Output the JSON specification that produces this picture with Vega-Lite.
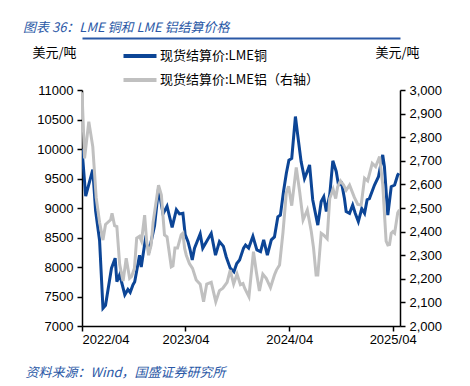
{
  "$schema": "https://vega.github.io/schema/vega-lite/v6.json",
  "width": 318,
  "height": 236,
  "autosize": {"type": "none"},
  "padding": {"left": 82, "top": 90, "right": 70, "bottom": 60},
  "background": "white",
  "title": {
    "text": "图表 36：LME 铜和 LME 铝结算价格",
    "anchor": "start",
    "frame": "group",
    "dx": -59,
    "offset": 3,
    "font": "Noto Sans CJK SC",
    "fontSize": 13,
    "fontStyle": "italic",
    "fontWeight": "normal",
    "color": "#2a58a6"
  },
  "config": {
    "view": {"stroke": null},
    "axis": {
      "labelFont": "Liberation Sans",
      "labelFontSize": 13,
      "labelColor": "#000000",
      "domainColor": "#000000",
      "domainWidth": 1.5,
      "tickColor": "#000000",
      "tickWidth": 1.5,
      "tickSize": 5,
      "grid": false,
      "titleFont": "Noto Sans CJK SC",
      "titleFontSize": 13,
      "titleFontWeight": "normal",
      "titleColor": "#000000"
    }
  },
  "datasets": {
    "cu": [
      {"date": "2022-04-01", "price": 10000},
      {"date": "2022-04-14", "price": 9200},
      {"date": "2022-05-09", "price": 9650},
      {"date": "2022-05-19", "price": 8950},
      {"date": "2022-06-02", "price": 8450},
      {"date": "2022-06-14", "price": 7300},
      {"date": "2022-06-23", "price": 7350},
      {"date": "2022-07-14", "price": 7980},
      {"date": "2022-07-27", "price": 8150},
      {"date": "2022-08-02", "price": 7750},
      {"date": "2022-08-12", "price": 7870},
      {"date": "2022-08-30", "price": 7530},
      {"date": "2022-09-10", "price": 7620},
      {"date": "2022-09-18", "price": 7570},
      {"date": "2022-09-28", "price": 7700},
      {"date": "2022-10-04", "price": 7750},
      {"date": "2022-10-21", "price": 8200},
      {"date": "2022-10-27", "price": 8000},
      {"date": "2022-11-10", "price": 8450},
      {"date": "2022-11-19", "price": 8340},
      {"date": "2022-11-25", "price": 8300},
      {"date": "2022-12-13", "price": 8700},
      {"date": "2022-12-27", "price": 9330},
      {"date": "2023-01-12", "price": 8900},
      {"date": "2023-01-26", "price": 9030},
      {"date": "2023-02-13", "price": 8670},
      {"date": "2023-02-28", "price": 8970},
      {"date": "2023-03-11", "price": 8900},
      {"date": "2023-03-23", "price": 8910},
      {"date": "2023-03-31", "price": 8550},
      {"date": "2023-04-10", "price": 8430},
      {"date": "2023-04-17", "price": 8300},
      {"date": "2023-04-25", "price": 8120},
      {"date": "2023-05-03", "price": 8320},
      {"date": "2023-05-23", "price": 8560},
      {"date": "2023-06-01", "price": 8320},
      {"date": "2023-06-13", "price": 8420},
      {"date": "2023-07-01", "price": 8570},
      {"date": "2023-07-16", "price": 8200},
      {"date": "2023-07-30", "price": 8430},
      {"date": "2023-08-13", "price": 8350},
      {"date": "2023-08-23", "price": 8170},
      {"date": "2023-09-06", "price": 7980},
      {"date": "2023-09-19", "price": 7920},
      {"date": "2023-09-29", "price": 8060},
      {"date": "2023-10-09", "price": 8120},
      {"date": "2023-10-23", "price": 8320},
      {"date": "2023-10-30", "price": 8370},
      {"date": "2023-11-10", "price": 8320},
      {"date": "2023-11-25", "price": 8520},
      {"date": "2023-12-09", "price": 8290},
      {"date": "2023-12-22", "price": 8260},
      {"date": "2024-01-02", "price": 8460},
      {"date": "2024-01-15", "price": 8200},
      {"date": "2024-01-29", "price": 8460},
      {"date": "2024-02-09", "price": 8510},
      {"date": "2024-02-21", "price": 8850},
      {"date": "2024-03-01", "price": 8880},
      {"date": "2024-03-12", "price": 9280},
      {"date": "2024-03-22", "price": 9590},
      {"date": "2024-03-31", "price": 9810},
      {"date": "2024-04-10", "price": 9840},
      {"date": "2024-04-23", "price": 10550},
      {"date": "2024-05-01", "price": 10240},
      {"date": "2024-05-13", "price": 9790},
      {"date": "2024-05-25", "price": 9500},
      {"date": "2024-06-04", "price": 9620},
      {"date": "2024-06-12", "price": 9730},
      {"date": "2024-06-23", "price": 9140},
      {"date": "2024-07-11", "price": 8710},
      {"date": "2024-07-23", "price": 9110},
      {"date": "2024-08-01", "price": 9190},
      {"date": "2024-08-10", "price": 8940},
      {"date": "2024-08-22", "price": 9220},
      {"date": "2024-09-02", "price": 9800},
      {"date": "2024-09-14", "price": 9620},
      {"date": "2024-09-22", "price": 9390},
      {"date": "2024-10-03", "price": 9420},
      {"date": "2024-10-13", "price": 9160},
      {"date": "2024-10-19", "price": 8940},
      {"date": "2024-10-31", "price": 8910},
      {"date": "2024-11-11", "price": 9050},
      {"date": "2024-11-20", "price": 8910},
      {"date": "2024-12-01", "price": 8770},
      {"date": "2024-12-13", "price": 8990},
      {"date": "2024-12-23", "price": 8910},
      {"date": "2025-01-01", "price": 9140},
      {"date": "2025-01-09", "price": 9160},
      {"date": "2025-01-27", "price": 9390},
      {"date": "2025-02-10", "price": 9530},
      {"date": "2025-02-25", "price": 9900},
      {"date": "2025-03-03", "price": 9700},
      {"date": "2025-03-15", "price": 8880},
      {"date": "2025-03-27", "price": 9360},
      {"date": "2025-04-08", "price": 9390},
      {"date": "2025-04-19", "price": 9560},
      {"date": "2025-04-23", "price": 9590}
    ],
    "al": [
      {"date": "2022-04-01", "price": 2990},
      {"date": "2022-04-10", "price": 2710},
      {"date": "2022-04-25", "price": 2866},
      {"date": "2022-05-09", "price": 2760},
      {"date": "2022-05-21", "price": 2545},
      {"date": "2022-06-02", "price": 2440},
      {"date": "2022-06-14", "price": 2364},
      {"date": "2022-06-23", "price": 2430},
      {"date": "2022-07-11", "price": 2450},
      {"date": "2022-07-16", "price": 2477},
      {"date": "2022-07-25", "price": 2425},
      {"date": "2022-08-02", "price": 2421},
      {"date": "2022-08-12", "price": 2260},
      {"date": "2022-08-24", "price": 2190},
      {"date": "2022-09-04", "price": 2287},
      {"date": "2022-09-16", "price": 2202},
      {"date": "2022-09-23", "price": 2210},
      {"date": "2022-10-03", "price": 2245},
      {"date": "2022-10-11", "price": 2372},
      {"date": "2022-10-21", "price": 2380},
      {"date": "2022-10-28", "price": 2360},
      {"date": "2022-11-08", "price": 2470},
      {"date": "2022-11-15", "price": 2360},
      {"date": "2022-11-22", "price": 2300},
      {"date": "2022-12-01", "price": 2343},
      {"date": "2022-12-08", "price": 2440},
      {"date": "2022-12-27", "price": 2597},
      {"date": "2023-01-06", "price": 2555},
      {"date": "2023-01-17", "price": 2386},
      {"date": "2023-01-26", "price": 2378},
      {"date": "2023-02-10", "price": 2251},
      {"date": "2023-02-16", "price": 2255},
      {"date": "2023-02-23", "price": 2330},
      {"date": "2023-03-04", "price": 2330},
      {"date": "2023-03-17", "price": 2386},
      {"date": "2023-03-23", "price": 2393},
      {"date": "2023-03-29", "price": 2330},
      {"date": "2023-04-04", "price": 2300},
      {"date": "2023-04-15", "price": 2265},
      {"date": "2023-04-26", "price": 2244},
      {"date": "2023-05-09", "price": 2195},
      {"date": "2023-05-23", "price": 2177},
      {"date": "2023-06-04", "price": 2103},
      {"date": "2023-06-15", "price": 2178},
      {"date": "2023-07-01", "price": 2185},
      {"date": "2023-07-17", "price": 2103},
      {"date": "2023-07-30", "price": 2150},
      {"date": "2023-08-11", "price": 2160},
      {"date": "2023-08-26", "price": 2185},
      {"date": "2023-09-06", "price": 2237},
      {"date": "2023-09-18", "price": 2178},
      {"date": "2023-09-30", "price": 2220},
      {"date": "2023-10-12", "price": 2175},
      {"date": "2023-10-21", "price": 2180},
      {"date": "2023-10-27", "price": 2160},
      {"date": "2023-11-11", "price": 2124},
      {"date": "2023-11-27", "price": 2315},
      {"date": "2023-12-07", "price": 2230},
      {"date": "2023-12-18", "price": 2148},
      {"date": "2023-12-30", "price": 2220},
      {"date": "2024-01-11", "price": 2202},
      {"date": "2024-01-26", "price": 2163},
      {"date": "2024-02-09", "price": 2216},
      {"date": "2024-02-16", "price": 2237},
      {"date": "2024-02-27", "price": 2258},
      {"date": "2024-03-10", "price": 2395},
      {"date": "2024-03-22", "price": 2565},
      {"date": "2024-03-30", "price": 2592},
      {"date": "2024-04-10", "price": 2510},
      {"date": "2024-04-26", "price": 2672},
      {"date": "2024-05-08", "price": 2569},
      {"date": "2024-05-20", "price": 2449},
      {"date": "2024-06-04", "price": 2492},
      {"date": "2024-06-18", "price": 2400},
      {"date": "2024-06-26", "price": 2330},
      {"date": "2024-07-05", "price": 2216},
      {"date": "2024-07-11", "price": 2216},
      {"date": "2024-07-23", "price": 2393},
      {"date": "2024-08-01", "price": 2385},
      {"date": "2024-08-13", "price": 2370},
      {"date": "2024-08-22", "price": 2540},
      {"date": "2024-09-03", "price": 2580},
      {"date": "2024-09-12", "price": 2540},
      {"date": "2024-09-19", "price": 2590},
      {"date": "2024-09-29", "price": 2615},
      {"date": "2024-10-10", "price": 2597},
      {"date": "2024-10-19", "price": 2575},
      {"date": "2024-10-31", "price": 2597},
      {"date": "2024-11-17", "price": 2545},
      {"date": "2024-11-29", "price": 2515},
      {"date": "2024-12-11", "price": 2513},
      {"date": "2024-12-23", "price": 2626},
      {"date": "2025-01-03", "price": 2615},
      {"date": "2025-01-19", "price": 2689},
      {"date": "2025-01-31", "price": 2675},
      {"date": "2025-02-14", "price": 2718},
      {"date": "2025-02-25", "price": 2600},
      {"date": "2025-03-09", "price": 2360},
      {"date": "2025-03-15", "price": 2343},
      {"date": "2025-03-21", "price": 2345},
      {"date": "2025-03-27", "price": 2393},
      {"date": "2025-04-02", "price": 2400},
      {"date": "2025-04-08", "price": 2393},
      {"date": "2025-04-19", "price": 2480},
      {"date": "2025-04-25", "price": 2492}
    ]
  },
  "layer": [
    {
      "data": {"name": "cu"},
      "mark": {"type": "line", "strokeWidth": 3, "clip": true},
      "encoding": {
        "x": {
          "field": "date",
          "type": "temporal",
          "scale": {"type": "utc", "domain": [{"year": 2022, "month": 4, "date": 1, "utc": true}, {"year": 2025, "month": 4, "date": 27, "utc": true}]},
          "axis": {
            "orient": "bottom",
            "values": [{"year": 2022, "month": 4, "date": 1, "utc": true}, {"year": 2023, "month": 4, "date": 1, "utc": true}, {"year": 2024, "month": 4, "date": 1, "utc": true}, {"year": 2025, "month": 4, "date": 1, "utc": true}],
            "labelExpr": "utcFormat(datum.value, '%Y/%m')",
            "labelPadding": 2,
            "title": "资料来源：Wind，国盛证券研究所",
            "titleX": -57,
            "titleY": 46,
            "titleAlign": "left",
            "titleAnchor": "start",
            "titleBaseline": "middle",
            "titleFontStyle": "italic",
            "titleColor": "#2a58a6"
          }
        },
        "y": {
          "field": "price",
          "type": "quantitative",
          "scale": {"domain": [7000, 11000], "nice": false, "zero": false},
          "axis": {
            "orient": "left",
            "values": [7000, 7500, 8000, 8500, 9000, 9500, 10000, 10500, 11000],
            "labelExpr": "format(datum.value, 'd')",
            "labelPadding": 4,
            "title": "美元/吨",
            "titleAngle": 0,
            "titleX": -50,
            "titleY": -38,
            "titleAlign": "left",
            "titleBaseline": "middle"
          }
        },
        "color": {
          "datum": "现货结算价:LME铜",
          "type": "nominal",
          "scale": {"domain": ["现货结算价:LME铜", "现货结算价:LME铝（右轴）"], "range": ["#0c4596", "#c0c0c0"]},
          "legend": {
            "orient": "none",
            "legendX": 46,
            "legendY": -46,
            "direction": "vertical",
            "title": null,
            "padding": 0,
            "symbolType": "M-1.65,0H1.65",
            "symbolSize": 400,
            "symbolStrokeWidth": 4,
            "labelFont": "Noto Sans CJK SC",
            "labelFontSize": 13,
            "labelColor": "#000000",
            "labelOffset": 8,
            "labelLimit": 300,
            "rowPadding": 4
          }
        }
      }
    },
    {
      "data": {"name": "al"},
      "mark": {"type": "line", "strokeWidth": 3, "clip": true},
      "encoding": {
        "x": {
          "field": "date",
          "type": "temporal",
          "scale": {"type": "utc", "domain": [{"year": 2022, "month": 4, "date": 1, "utc": true}, {"year": 2025, "month": 4, "date": 27, "utc": true}]},
          "axis": {
            "orient": "top",
            "offset": 52,
            "ticks": false,
            "labels": false,
            "title": null,
            "domainColor": "#2a58a6",
            "domainWidth": 2
          }
        },
        "y": {
          "field": "price",
          "type": "quantitative",
          "scale": {"domain": [2000, 3000], "nice": false, "zero": false},
          "axis": {
            "orient": "right",
            "values": [2000, 2100, 2200, 2300, 2400, 2500, 2600, 2700, 2800, 2900, 3000],
            "labelExpr": "format(datum.value, ',')",
            "labelPadding": 4,
            "title": "美元/吨",
            "titleAngle": 0,
            "titleX": -25,
            "titleY": -38,
            "titleAlign": "left",
            "titleBaseline": "middle"
          }
        },
        "color": {"datum": "现货结算价:LME铝（右轴）", "type": "nominal"}
      }
    }
  ],
  "resolve": {"scale": {"y": "independent", "x": "independent"}, "axis": {"x": "independent", "y": "independent"}}
}
